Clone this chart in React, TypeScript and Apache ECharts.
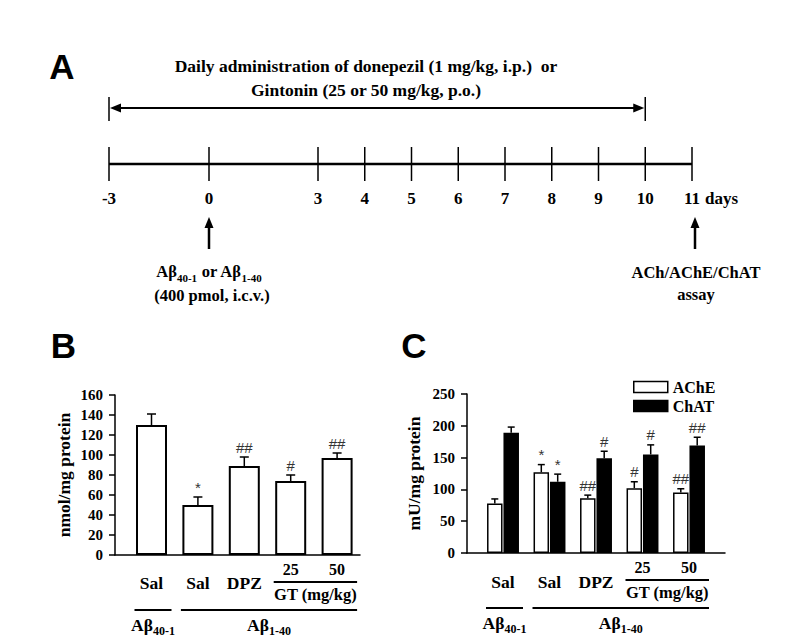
import { useEffect, useRef } from 'react';
import * as echarts from 'echarts';

const SERIF = "'Liberation Serif', 'Times New Roman', Times, serif";
const SANS = "'Liberation Sans', Arial, Helvetica, sans-serif";

// ---------- Panel A : timeline ----------
const timelineDays = [-3, 0, 3, 4, 5, 6, 7, 8, 9, 10, 11];
const timelineSegments = [
  [-3, 0],
  [0, 3],
  [3, 11],
];
const timelineUnit = 'days';
const treatmentSpan = [-3, 10];
const treatmentText = ['Daily administration of donepezil (1 mg/kg, i.p.)  or', 'Gintonin (25 or 50 mg/kg, p.o.)'];
const injectionDay = 0;
const assayDay = 11;
const injectionText = ['{n|Aβ}{s|40-1}{n| or Aβ}{s|1-40}', '(400 pmol, i.c.v.)'];
const assayText = ['ACh/AChE/ChAT', 'assay'];

// ---------- Panel B / C : groups ----------
const groupKeys = ['Aβ40-1 Sal', 'Aβ1-40 Sal', 'Aβ1-40 DPZ', 'Aβ1-40 GT25', 'Aβ1-40 GT50'];
const groupLabels = ['Sal', 'Sal', 'DPZ', '25', '50'];
const doseGroups = [false, false, false, true, true];
const brackets = [
  { kind: 'dose', from: 3, to: 4, main: 'GT (mg/kg)', sub: '' },
  { kind: 'peptide', from: 0, to: 0, main: 'Aβ', sub: '40-1' },
  { kind: 'peptide', from: 1, to: 4, main: 'Aβ', sub: '1-40' },
];

// Panel B : ACh
const achName = 'nmol/mg protein';
const achTicks = { min: 0, max: 160, interval: 20 };
const achValues = [130, 50, 89, 74, 97];
const achErrors = [11, 8, 9, 6, 5];
const achMarks = ['', '*', '##', '#', '##'];

// Panel C : AChE / ChAT
const enzymeName = 'mU/mg protein';
const enzymeTicks = { min: 0, max: 250, interval: 50 };
const acheValues = [78, 127, 86, 102, 95];
const acheErrors = [7, 12, 5, 10, 6];
const acheMarks = ['', '*', '##', '#', '##'];
const chatValues = [189, 112, 149, 155, 169];
const chatErrors = [9, 12, 11, 15, 13];
const chatMarks = ['', '*', '#', '#', '##'];

// ---------- layout ----------
const SEG_LEFT = [109, 209, 318];
const SEG_WIDTH = [100, 109, 374];
const TL_TOP = 147;
const TL_H = 34;

const boldSerif = (size: number) => ({ fontFamily: SERIF, fontWeight: 'bold' as const, fontSize: size, color: '#000' });

const subRich = (main: number, sub: number, pad: number) => ({
  n: { fontFamily: SERIF, fontWeight: 'bold', fontSize: main, lineHeight: main + 2, color: '#000', fill: '#000', verticalAlign: 'top' },
  s: { fontFamily: SERIF, fontWeight: 'bold', fontSize: sub, lineHeight: sub, color: '#000', fill: '#000', padding: [pad, 0, 0, 0], verticalAlign: 'top' },
});

function segIndexOf(d: number) {
  for (let k = 0; k < timelineSegments.length; k++) {
    const [s0, s1] = timelineSegments[k];
    if (d >= s0 && (d < s1 || k === timelineSegments.length - 1)) return k;
  }
  return 0;
}

function errorSeries(axis: number, name: string, values: number[], errors: number[], marks: string[], offset: number, cap: number) {
  return {
    type: 'custom',
    name,
    xAxisIndex: axis,
    yAxisIndex: axis,
    silent: true,
    z: 5,
    data: values.map((v, i) => [i, v, errors[i]]),
    renderItem: (params: any, api: any) => {
      const i = api.value(0);
      const v = api.value(1);
      const e = api.value(2);
      const a = api.coord([i, v]);
      const b = api.coord([i, v + e]);
      const x = a[0] + offset;
      const children: any[] = [
        { type: 'line', shape: { x1: x, y1: a[1], x2: x, y2: b[1] }, style: { stroke: '#000', lineWidth: 1.5 } },
        { type: 'line', shape: { x1: x - cap / 2, y1: b[1], x2: x + cap / 2, y2: b[1] }, style: { stroke: '#000', lineWidth: 1.5 } },
      ];
      const m = marks[params.dataIndex];
      if (m) {
        children.push({
          type: 'text',
          x,
          y: b[1] - 10,
          style: { text: m, fontFamily: SANS, fontSize: 15, fill: '#333', align: 'center', verticalAlign: 'middle', textAlign: 'center', textVerticalAlign: 'middle' },
        });
      }
      return { type: 'group', children };
    },
  };
}

function bracketSeries(axis: number) {
  return {
    type: 'custom',
    xAxisIndex: axis,
    yAxisIndex: axis,
    silent: true,
    data: brackets.map((b) => [b.from, b.to]),
    renderItem: (params: any, api: any) => {
      const b = brackets[params.dataIndex];
      const p0 = api.coord([b.from, 0]);
      const p1 = api.coord([b.to, 0]);
      const x0 = p0[0] - 17;
      const x1 = p1[0] + 20;
      const isDose = b.kind === 'dose';
      const y = p0[1] + (isDose ? 27 : 55);
      const cx = (x0 + x1) / 2;
      const text = isDose
        ? { type: 'text', x: cx, y: y + 12, style: { text: b.main, fontFamily: SERIF, fontWeight: 'bold', fontSize: 16.5, fill: '#000', align: 'center', verticalAlign: 'middle', textAlign: 'center', textVerticalAlign: 'middle' } }
        : {
            type: 'text',
            x: cx,
            y: y + 6,
            style: {
              text: `{n|${b.main}}{s|${b.sub}}`,
              rich: subRich(17.5, 12, 9),
              align: 'center',
              verticalAlign: 'top',
              textAlign: 'center',
              textVerticalAlign: 'top',
            },
          };
      return {
        type: 'group',
        children: [{ type: 'line', shape: { x1: x0, y1: y, x2: x1, y2: y }, style: { stroke: '#000', lineWidth: 2 } }, text],
      };
    },
  };
}

const catLabel = (pad: number) => ({
  interval: 0,
  margin: 6,
  formatter: (_v: string, i: number) => (doseGroups[i] ? `{g|${groupLabels[i]}}` : `{m|${groupLabels[i]}}`),
  rich: {
    g: { fontFamily: SERIF, fontWeight: 'bold', fontSize: 16, lineHeight: 16, color: '#000' },
    m: { fontFamily: SERIF, fontWeight: 'bold', fontSize: 17.5, lineHeight: 17, color: '#000', padding: [pad, 0, 0, 0] },
  },
});

const frameX = (grid: number) => ({
  type: 'value',
  gridIndex: grid,
  min: 0,
  max: 1,
  axisLine: { show: true, onZero: false, lineStyle: { color: '#000', width: 1.5 } },
  axisTick: { show: false },
  axisLabel: { show: false },
  splitLine: { show: false },
});

const frameY = (grid: number, ticks: any, name: string, gap: number) => ({
  type: 'value',
  gridIndex: grid,
  min: ticks.min,
  max: ticks.max,
  interval: ticks.interval,
  axisLine: { show: true, lineStyle: { color: '#000', width: 1.5 } },
  axisTick: { show: true, length: 6, lineStyle: { color: '#000', width: 1.5 } },
  axisLabel: { ...boldSerif(15), margin: 12 },
  splitLine: { show: false },
  name,
  nameLocation: 'middle',
  nameGap: gap,
  nameTextStyle: boldSerif(17.5),
});

function buildOption(): any {
  const grids: any[] = [
    ...SEG_LEFT.map((l, k) => ({ left: l, width: SEG_WIDTH[k], top: TL_TOP, height: TL_H })),
    { left: 115, width: 245, top: 395, height: 160 },
    { left: 128.3, width: 232, top: 395, height: 160 },
    { left: 467, width: 258, top: 394, height: 159 },
    { left: 479.75, width: 232.5, top: 394, height: 159 },
  ].map((g) => ({ ...g, containLabel: false, outerBoundsMode: 'none' }));

  const xAxis: any[] = [
    ...timelineSegments.map(([s0, s1], k) => ({ type: 'value', gridIndex: k, min: s0, max: s1, show: false })),
    frameX(3),
    { type: 'category', gridIndex: 4, data: groupKeys, axisLine: { show: false }, axisTick: { show: false }, axisLabel: catLabel(27), splitLine: { show: false } },
    frameX(5),
    { type: 'category', gridIndex: 6, data: groupKeys, axisLine: { show: false }, axisTick: { show: false }, axisLabel: catLabel(29), splitLine: { show: false } },
  ];
  const yAxis: any[] = [
    ...timelineSegments.map((_s, k) => ({ type: 'value', gridIndex: k, min: -1, max: 1, show: false })),
    frameY(3, achTicks, achName, 42),
    { type: 'value', gridIndex: 4, min: achTicks.min, max: achTicks.max, show: false },
    frameY(5, enzymeTicks, enzymeName, 44),
    { type: 'value', gridIndex: 6, min: enzymeTicks.min, max: enzymeTicks.max, show: false },
  ];

  const series: any[] = [];
  timelineSegments.forEach(([s0, s1], k) => {
    series.push({
      type: 'line',
      xAxisIndex: k,
      yAxisIndex: k,
      data: [
        [s0, 0],
        [s1, 0],
      ],
      symbol: 'none',
      silent: true,
      clip: false,
      lineStyle: { color: '#000', width: 2.5 },
    });
    series.push({
      type: 'custom',
      xAxisIndex: k,
      yAxisIndex: k,
      silent: true,
      data: timelineDays.filter((d) => segIndexOf(d) === k).map((d) => [d, 0]),
      renderItem: (_p: any, api: any) => {
        const d = api.value(0);
        const top = api.coord([d, 1]);
        const bot = api.coord([d, -1]);
        const ty = bot[1] + 17;
        const children: any[] = [
          { type: 'line', shape: { x1: top[0], y1: top[1], x2: bot[0], y2: bot[1] }, style: { stroke: '#000', lineWidth: 1.5 } },
          { type: 'text', x: top[0], y: ty, style: { text: String(d), fontFamily: SERIF, fontWeight: 'bold', fontSize: 17, fill: '#000', align: 'center', verticalAlign: 'middle', textAlign: 'center', textVerticalAlign: 'middle' } },
        ];
        if (d === timelineDays[timelineDays.length - 1]) {
          children.push({ type: 'text', x: top[0] + 13, y: ty, style: { text: timelineUnit, fontFamily: SERIF, fontWeight: 'bold', fontSize: 17, fill: '#000', align: 'left', verticalAlign: 'middle', textAlign: 'left', textVerticalAlign: 'middle' } });
        }
        return { type: 'group', children };
      },
    });
  });

  // Panel B
  series.push({
    type: 'bar',
    name: 'ACh',
    xAxisIndex: 4,
    yAxisIndex: 4,
    data: achValues,
    barWidth: 31,
    itemStyle: { color: '#fff', borderColor: '#000', borderWidth: 2 },
    silent: true,
  });
  series.push(errorSeries(4, 'ACh err', achValues, achErrors, achMarks, 0, 9));
  series.push(bracketSeries(4));

  // Panel C
  series.push({
    type: 'bar',
    name: 'AChE',
    xAxisIndex: 6,
    yAxisIndex: 6,
    data: acheValues,
    barWidth: 15.5,
    barGap: '6%',
    itemStyle: { color: '#fff', borderColor: '#000', borderWidth: 1.5 },
    silent: true,
  });
  series.push({
    type: 'bar',
    name: 'ChAT',
    xAxisIndex: 6,
    yAxisIndex: 6,
    data: chatValues,
    barWidth: 15.5,
    barGap: '6%',
    itemStyle: { color: '#000', borderColor: '#000', borderWidth: 1.5 },
    silent: true,
  });
  series.push(errorSeries(6, 'AChE err', acheValues, acheErrors, acheMarks, -8.2, 7));
  series.push(errorSeries(6, 'ChAT err', chatValues, chatErrors, chatMarks, 8.2, 7));
  series.push(bracketSeries(6));

  return {
    animation: false,
    backgroundColor: '#fff',
    grid: grids,
    xAxis,
    yAxis,
    legend: {
      orient: 'vertical',
      left: 628,
      top: 374,
      itemWidth: 34,
      itemHeight: 11,
      itemGap: 3,
      icon: 'rect',
      selectedMode: false,
      textStyle: boldSerif(16),
      data: [
        { name: 'AChE', itemStyle: { color: '#fff', borderColor: '#000', borderWidth: 1.5 } },
        { name: 'ChAT', itemStyle: { color: '#000', borderColor: '#000', borderWidth: 1.5 } },
      ],
    },
    series,
  };
}

function buildGraphics(chart: any): any[] {
  const px = (d: number) => chart.convertToPixel({ xAxisIndex: segIndexOf(d) }, d) as number;
  const txt = (x: number, y: number, text: string, size: number, extra: any = {}) => ({
    type: 'text',
    x,
    y,
    style: { text, fontFamily: SERIF, fontWeight: 'bold', fontSize: size, fill: '#000', textAlign: 'center', textVerticalAlign: 'middle', align: 'center', verticalAlign: 'middle', ...extra },
  });
  const letter = (x: number, y: number, t: string) => ({
    type: 'text',
    x,
    y,
    style: { text: t, fontFamily: SANS, fontWeight: 'bold', fontSize: 35, fill: '#000', textAlign: 'center', textVerticalAlign: 'middle', align: 'center', verticalAlign: 'middle' },
  });
  const els: any[] = [];
  els.push(letter(62, 66, 'A'), letter(63.5, 345, 'B'), letter(414, 345, 'C'));

  // treatment text
  els.push(txt(366, 66, treatmentText[0], 17.5, { whiteSpace: 'pre' }));
  els.push(txt(366, 90, treatmentText[1], 17.5));

  // double-headed arrow
  const xa = px(treatmentSpan[0]);
  const xb = px(treatmentSpan[1]);
  const ya = 108;
  const ls = { stroke: '#000', lineWidth: 1.5 };
  els.push({ type: 'line', shape: { x1: xa + 4, y1: ya, x2: xb - 4, y2: ya }, style: { stroke: '#000', lineWidth: 2 } });
  els.push({ type: 'line', shape: { x1: xa, y1: ya - 11, x2: xa, y2: ya + 13 }, style: ls });
  els.push({ type: 'line', shape: { x1: xb, y1: ya - 11, x2: xb, y2: ya + 13 }, style: ls });
  els.push({ type: 'polygon', shape: { points: [[xa + 1, ya], [xa + 12, ya - 4.5], [xa + 12, ya + 4.5]] }, style: { fill: '#000' } });
  els.push({ type: 'polygon', shape: { points: [[xb - 1, ya], [xb - 12, ya - 4.5], [xb - 12, ya + 4.5]] }, style: { fill: '#000' } });

  // up arrows
  const upArrow = (x: number) => [
    { type: 'line', shape: { x1: x, y1: 226, x2: x, y2: 249 }, style: { stroke: '#000', lineWidth: 2.5 } },
    { type: 'polygon', shape: { points: [[x, 217], [x - 4.5, 228], [x + 4.5, 228]] }, style: { fill: '#000' } },
  ];
  const xi = px(injectionDay);
  const xs = px(assayDay) + 3;
  els.push(...upArrow(xi), ...upArrow(xs));

  els.push({
    type: 'text',
    x: xi,
    y: 263,
    style: { text: injectionText[0], rich: subRich(16.5, 11, 9), textAlign: 'center', textVerticalAlign: 'top', align: 'center', verticalAlign: 'top' },
  });
  els.push(txt(xi + 3, 295, injectionText[1], 16.5));
  els.push(txt(xs + 1, 272, assayText[0], 16.5));
  els.push(txt(xs + 1, 294, assayText[1], 16.5));
  return els;
}

export default function App() {
  const ref = useRef<HTMLDivElement>(null);
  useEffect(() => {
    if (!ref.current) return;
    const chart = echarts.init(ref.current, null, { renderer: 'svg' });
    chart.setOption(buildOption());
    chart.setOption({ graphic: { elements: buildGraphics(chart) } });
    return () => chart.dispose();
  }, []);
  return <div ref={ref} style={{ position: 'fixed', left: 0, top: 0, width: 786, height: 640, background: '#fff' }} />;
}
